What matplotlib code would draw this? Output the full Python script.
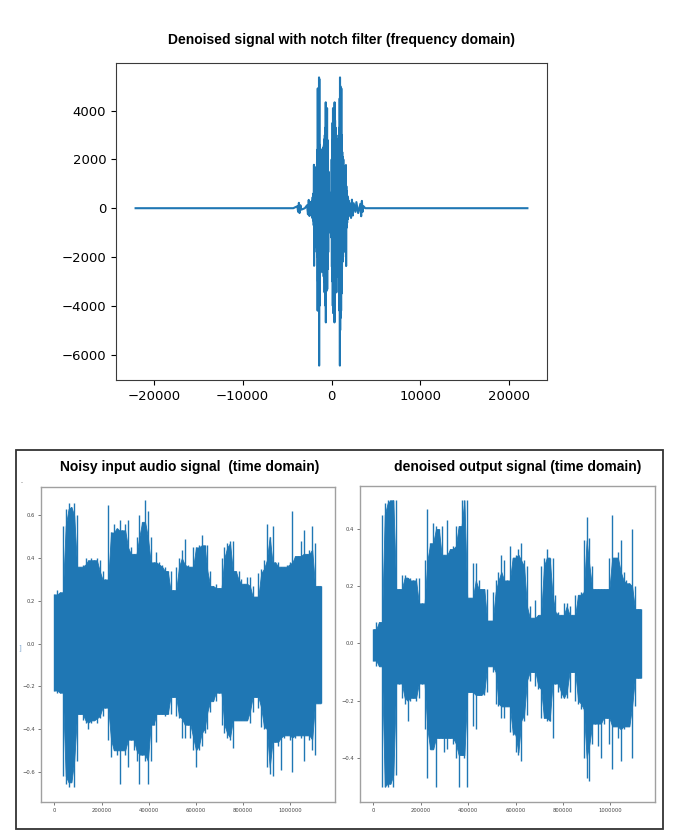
import numpy as np
import matplotlib
matplotlib.use('Agg')
import matplotlib.pyplot as plt
from matplotlib.patches import Rectangle
from matplotlib.ticker import MultipleLocator

BLUE = '#1f77b4'
W, H = 676, 832

# spectrum after the notch filter (Hz / amplitude)
freq_hz = [-22050, -4300, -3850, -3750, -3670, -3600, -3500, -3400, -3000, -2750,
           -2650, -2560, -2480, -2400, -2300, -2240,
           -2200, -2160, -2120, -2080, -2040, -2000, -1975, -1960, -1930, -1900,
           -1870, -1840, -1810, -1780, -1750, -1720, -1690, -1660, -1630, -1600,
           -1575, -1560, -1545, -1520, -1490, -1460, -1430, -1415, -1405, -1392,
           -1375, -1355, -1330, -1300, -1270, -1240, -1210, -1180, -1150, -1120,
           -1090, -1060, -1030, -1000, -970, -940, -910, -880, -850, -820,
           -795, -780, -750, -720, -690, -665, -648, -635, -610, -580,
           -550, -520, -500, -485, -460, -430, -400, -370, -340, -310,
           -280, -250, -220, -190, -160, -130, -100, -70, -40, -10,
           20, 45, 75, 100, 125, 145, 170, 190, 215, 240,
           265, 290, 320, 335, 350, 375, 400, 430, 460, 490,
           520, 550, 580, 610, 640, 670, 700, 730, 760, 790,
           820, 850, 880, 905, 925, 945, 958, 975, 995, 1020,
           1050, 1080, 1105, 1125, 1150, 1180, 1210, 1240, 1270, 1300,
           1330, 1360, 1390, 1420, 1450, 1480, 1510, 1540, 1570, 1600,
           1625, 1645, 1670, 1700, 1730, 1760, 1790, 1820, 1860, 1900,
           1950, 2000, 2080,
           2200, 2300, 2400, 2500, 2700, 2800, 3000, 3250, 3340, 3420,
           3500, 3600, 3800, 22050]
freq_amp = [0, 0, 80, -150, 220, -200, 120, -60, 0, 120,
            -250, 340, -320, 250, -150, 200,
            300, -400, 450, -500, 600, -700, 1780, -2360, 900, -1000,
            1200, -1100, 1300, -1400, 1500, -1600, 1700, -1800, 1900, -2000,
            2400, -4200, 4910, -3000, 3600, -3300, 4500, -4200, 5360, -6450,
            5300, -4000, 2600, -2200, 2300, -2640, 2420, -2200, 2200, -2100,
            2000, -2300, 2200, -2400, 2300, -2600, 2500, -2800, 2600, -3000,
            2830, -3450, 3000, -3500, 3300, -4000, 4340, -4680, 3600, -3400,
            3500, -3000, 4100, -3320, 2800, -2500, 2200, -1800, 1500, -1000,
            700, -500, 480, -470, 480, -470, 500, -480, 600, -1200,
            2000, -2400, 2800, -3000, 3500, -4000, 4100, -4300, 3600, -3800,
            3900, -4000, 4000, -4680, 4340, -3500, 3600, -3400, 3300, -3000,
            3000, -3450, 2830, -2800, 2600, -2640, 2500, -2600, 2650, -2800,
            3000, -3200, 3300, -4200, 4500, -6450, 5360, -5000, 5000, -4500,
            4500, -4200, 4910, -3500, 3000, -2500, 2300, -2200, 2100, -2000,
            2000, -1800, 1700, -1600, 1500, -1500, 1400, -1500, 1500, -1700,
            1770, -2370, 900, -800, 700, -600, 500, -450, 400, -350,
            300, -250, 200,
            -400, 350, -300, 200, -150, 250, -200, 180, -330, 300,
            -150, 80, 0, 0]

# time-domain envelopes, read every 12000 samples
sample_pos = np.arange(95) * 12000

noisy_upper = [0.23, 0.25, 0.24, 0.55, 0.63, 0.66, 0.64, 0.66, 0.60, 0.36,
               0.37, 0.40, 0.39, 0.40, 0.39, 0.40, 0.39, 0.34, 0.30, 0.65,
               0.52, 0.56, 0.54, 0.58, 0.53, 0.56, 0.58, 0.45, 0.42, 0.50,
               0.60, 0.57, 0.67, 0.62, 0.50, 0.38, 0.43, 0.38, 0.37, 0.36,
               0.34, 0.34, 0.25, 0.36, 0.40, 0.44, 0.49, 0.37, 0.36, 0.45,
               0.45, 0.46, 0.51, 0.46, 0.46, 0.34, 0.27, 0.28, 0.26, 0.40,
               0.45, 0.47, 0.48, 0.48, 0.34, 0.34, 0.30, 0.28, 0.31, 0.31,
               0.27, 0.22, 0.33, 0.35, 0.39, 0.56, 0.50, 0.55, 0.38, 0.38,
               0.36, 0.36, 0.37, 0.38, 0.62, 0.41, 0.41, 0.48, 0.53, 0.42,
               0.44, 0.55, 0.47, 0.27, 0.27]
noisy_lower = [-0.22, -0.23, -0.23, -0.62, -0.66, -0.67, -0.65, -0.67, -0.55, -0.33,
               -0.36, -0.37, -0.40, -0.37, -0.36, -0.37, -0.35, -0.34, -0.30, -0.45,
               -0.53, -0.50, -0.52, -0.66, -0.50, -0.52, -0.58, -0.45, -0.50, -0.55,
               -0.66, -0.52, -0.55, -0.66, -0.55, -0.38, -0.46, -0.33, -0.33, -0.34,
               -0.33, -0.33, -0.25, -0.34, -0.35, -0.44, -0.44, -0.38, -0.44, -0.50,
               -0.58, -0.50, -0.48, -0.42, -0.40, -0.32, -0.27, -0.27, -0.23, -0.38,
               -0.42, -0.44, -0.45, -0.49, -0.36, -0.36, -0.36, -0.36, -0.36, -0.37,
               -0.32, -0.25, -0.30, -0.39, -0.40, -0.58, -0.61, -0.62, -0.46, -0.48,
               -0.59, -0.44, -0.43, -0.45, -0.60, -0.44, -0.43, -0.44, -0.55, -0.43,
               -0.45, -0.50, -0.52, -0.28, -0.28]

denoised_upper = [0.05, 0.075, 0.075, 0.45, 0.49, 0.50, 0.50, 0.50, 0.50, 0.19,
                  0.24, 0.24, 0.23, 0.23, 0.22, 0.23, 0.23, 0.14, 0.29, 0.47,
                  0.35, 0.42, 0.41, 0.40, 0.41, 0.31, 0.43, 0.33, 0.34, 0.41,
                  0.41, 0.50, 0.50, 0.50, 0.16, 0.28, 0.28, 0.22, 0.19, 0.19,
                  0.19, 0.08, 0.18, 0.22, 0.25, 0.31, 0.29, 0.22, 0.34, 0.30,
                  0.31, 0.33, 0.35, 0.29, 0.27, 0.13, 0.09, 0.15, 0.10, 0.27,
                  0.30, 0.33, 0.30, 0.30, 0.17, 0.11, 0.10, 0.14, 0.14, 0.13,
                  0.10, 0.17, 0.17, 0.18, 0.36, 0.44, 0.37, 0.27, 0.19, 0.19,
                  0.19, 0.19, 0.19, 0.30, 0.45, 0.30, 0.32, 0.36, 0.25, 0.22,
                  0.21, 0.40, 0.20, 0.12, 0.12]
denoised_lower = [-0.06, -0.08, -0.08, -0.50, -0.50, -0.50, -0.49, -0.50, -0.46, -0.14,
                  -0.19, -0.21, -0.27, -0.20, -0.19, -0.20, -0.19, -0.14, -0.30, -0.47,
                  -0.37, -0.37, -0.50, -0.33, -0.33, -0.38, -0.37, -0.33, -0.35, -0.40,
                  -0.50, -0.39, -0.40, -0.50, -0.17, -0.29, -0.30, -0.18, -0.18, -0.18,
                  -0.17, -0.08, -0.10, -0.21, -0.22, -0.26, -0.26, -0.22, -0.31, -0.32,
                  -0.38, -0.39, -0.41, -0.27, -0.25, -0.13, -0.10, -0.15, -0.16, -0.26,
                  -0.26, -0.27, -0.27, -0.33, -0.14, -0.17, -0.19, -0.19, -0.19, -0.17,
                  -0.10, -0.20, -0.21, -0.23, -0.40, -0.47, -0.48, -0.35, -0.28, -0.36,
                  -0.40, -0.28, -0.26, -0.35, -0.44, -0.29, -0.33, -0.41, -0.30, -0.29,
                  -0.29, -0.40, -0.22, -0.12, -0.12]


def px_box(left, top, right, bottom):
    # pixel box -> figure fraction rect
    return [left / W, 1 - bottom / H, (right - left) / W, (bottom - top) / H]


fig = plt.figure(figsize=(W / 100, H / 100), dpi=100)

# --- top: frequency domain ---
ax_f = fig.add_axes(px_box(116, 63, 547, 380))
ax_f.plot(freq_hz, freq_amp, color=BLUE, lw=1.5)
ax_f.tick_params(labelsize=9.5)
for s in ax_f.spines.values():
    s.set_color('#3a3a3a')
fig.text(341 / W, 1 - 40 / H, 'Denoised signal with notch filter (frequency domain)',
         ha='center', va='center', fontsize=10, fontweight='bold', family='Liberation Sans')

# --- bottom: framed pair of time-domain plots ---
fig.add_artist(Rectangle((16 / W, 1 - 829 / H), 647 / W, 379 / H, transform=fig.transFigure,
                         fill=False, ec='#333333', lw=1.3))


def time_plot(box, upper, lower, ylim, title, title_x):
    ax = fig.add_axes(px_box(*box))
    up = np.array(upper)
    lo = np.array(lower)
    # body = the quieter of each point and its neighbours, peaks stick out as thin spikes
    up_pad = np.pad(up, 1, mode='edge')
    lo_pad = np.pad(lo, 1, mode='edge')
    body_up = np.minimum(np.minimum(up_pad[:-2], up_pad[1:-1]), up_pad[2:])
    body_lo = np.maximum(np.maximum(lo_pad[:-2], lo_pad[1:-1]), lo_pad[2:])
    ax.fill_between(sample_pos, body_lo, body_up, color=BLUE, lw=0.6, ec=BLUE)
    ax.vlines(sample_pos, lo, up, color=BLUE, lw=1.0)
    ax.set_xlim(-56600, 1188600)
    ax.set_ylim(*ylim)
    ax.xaxis.set_major_locator(MultipleLocator(200000))
    ax.yaxis.set_major_locator(MultipleLocator(0.2))
    ax.ticklabel_format(style='plain', useOffset=False)
    ax.tick_params(labelsize=3.8, length=2, width=0.5, pad=2, colors='#444444')
    for s in ax.spines.values():
        s.set_color('#a0a0a0')
        s.set_linewidth(1.0)
    fig.text(title_x / W, 1 - 467 / H, title, ha='center', va='center',
             fontsize=10, fontweight='bold', family='Liberation Sans')
    return ax


time_plot((41, 487, 335, 802), noisy_upper, noisy_lower, (-0.742, 0.733),
          'Noisy input audio signal  (time domain)', 190)
time_plot((360, 486, 655, 802), denoised_upper, denoised_lower, (-0.554, 0.55),
          'denoised output signal (time domain)', 518)

# leftover crop marks from the screenshot
fig.text(20 / W, 1 - 648 / H, ']', fontsize=5, color='#7fa7cf', ha='center', va='center')
fig.text(22 / W, 1 - 483 / H, '-', fontsize=4, color='#555555', ha='center', va='center')

fig.savefig('out.png', dpi=100)
